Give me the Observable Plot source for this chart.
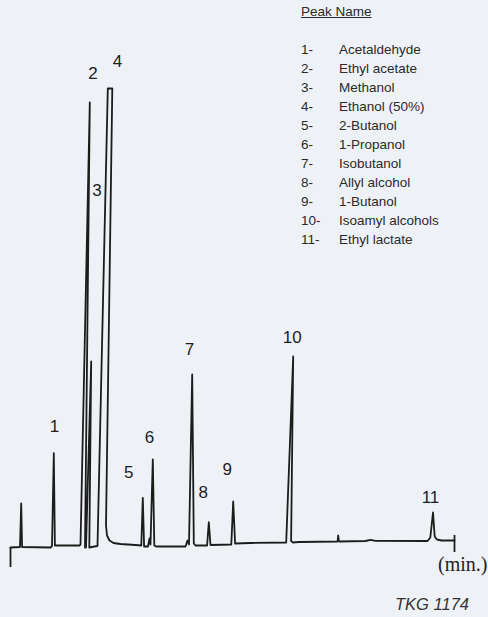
<!DOCTYPE html>
<html>
<head>
<meta charset="utf-8">
<script src="https://cdn.jsdelivr.net/npm/d3@7"></script>
<script src="https://cdn.jsdelivr.net/npm/@observablehq/plot@0.6"></script>
<style>
  html, body { margin: 0; padding: 0; background: #eef2f7; }
  #wrap { position: relative; width: 488px; height: 617px; overflow: hidden; background: #eef2f7; }
  #wrap svg { position: absolute; left: 0; top: 0; }
  .lg { position: absolute; font-family: "Liberation Sans", Arial, sans-serif; font-size: 13.5px; color: #2a2a2a; line-height: 1; white-space: nowrap; }
  .ttl { position: absolute; left: 301px; top: 4px; font-family: "Liberation Sans", Arial, sans-serif; font-size: 13.5px; color: #2a2a2a; text-decoration: underline; white-space: nowrap; }
  .unit { position: absolute; left: 438px; top: 553px; font-family: "Liberation Serif", "Times New Roman", serif; font-size: 20px; color: #222; white-space: nowrap; }
  .cap { position: absolute; left: 395px; top: 595px; font-family: "Liberation Sans", Arial, sans-serif; font-style: italic; font-size: 16.5px; color: #333; white-space: nowrap; }
</style>
</head>
<body>
<div id="wrap"></div>
<script>
// Chromatogram trace: retention time (min) and detector signal (arbitrary units)
const traceTime = [0.000, 0.633, 0.713, 0.773, 2.667, 2.767, 2.887, 2.960, 4.600, 4.667,
  5.287, 4.967, 5.033, 5.380, 5.253, 5.600, 5.800, 6.487, 6.787, 6.367,
  6.433, 6.600, 6.867, 7.333, 8.333, 8.720, 8.820, 8.907, 9.167, 9.267,
  9.333, 9.487, 9.587, 9.700, 11.667, 11.800, 11.900, 12.113, 12.220, 12.333,
  13.107, 13.220, 13.333, 14.720, 14.847, 14.973, 16.000, 18.380, 18.847, 18.707,
  18.833, 19.200, 21.800, 21.847, 21.893, 23.667, 24.000, 24.333, 27.800, 27.987,
  28.167, 28.280, 28.433, 28.733, 29.600];
const traceSignal = [0.0, 0.1, 8.8, 0.1, 0.0, 0.3, 18.86, 0.4, 0.4, 0.6,
  89.0, 0.0, 0.0, 37.2, 0.0, 0.2, 0.3, 91.8, 91.8, 4.4,
  2.4, 1.4, 0.9, 0.7, 0.5, 0.4, 9.94, 0.2, 0.2, 1.8,
  0.6, 17.6, 0.4, 0.2, 0.2, 1.4, 0.6, 34.6, 0.8, 0.4,
  0.4, 5.06, 0.5, 0.6, 9.2, 0.8, 0.9, 1.0, 38.2, 1.3,
  1.0, 1.1, 1.2, 2.4, 1.2, 1.3, 1.54, 1.34, 1.3, 2.0,
  7.0, 2.2, 1.6, 1.4, 1.4];

// Peak numbers and where their labels sit (time, signal)
const peakNumbers = ["1", "2", "3", "4", "5", "6", "7", "8", "9", "10", "11"];
const labelTime   = [2.933, 5.50, 5.773, 7.133, 7.887, 9.267, 11.933, 12.847, 14.447, 18.78, 28.00];
const labelSignal = [24.1, 94.8, 71.3, 97.1, 15.06, 22.06, 39.54, 11.06, 15.6, 42.06, 10.06];

// Time axis ends (start and end ticks)
const axisTickTime = [0, 29.6];
const axisTickTop = [0, 2.4];
const axisTickBottom = [-4, -1];

// Legend
const legendTitle = "Peak Name";
const peakNames = ["Acetaldehyde", "Ethyl acetate", "Methanol", "Ethanol (50%)", "2-Butanol",
  "1-Propanol", "Isobutanol", "Allyl alcohol", "1-Butanol", "Isoamyl alcohols", "Ethyl lactate"];
const unitLabel = "(min.)";
const caption = "TKG 1174";

const trace = traceTime.map((t, i) => ({t, s: traceSignal[i]}));
const labels = peakNumbers.map((n, i) => ({n, t: labelTime[i], s: labelSignal[i]}));
const ticks = axisTickTime.map((t, i) => ({t, s1: axisTickTop[i], s2: axisTickBottom[i]}));

const chart = Plot.plot({
  width: 488,
  height: 617,
  marginLeft: 10,
  marginRight: 34,
  marginTop: 88,
  marginBottom: 70,
  x: {domain: [0, 29.6], axis: null},
  y: {domain: [0, 91.8], axis: null},
  style: {background: "transparent", overflow: "visible"},
  marks: [
    Plot.line(trace, {x: "t", y: "s", stroke: "#1c1c1c", strokeWidth: 1.8, strokeLinejoin: "round", curve: "linear"}),
    Plot.ruleX(ticks, {x: "t", y1: "s1", y2: "s2", stroke: "#1c1c1c", strokeWidth: 1.8}),
    Plot.text(labels, {x: "t", y: "s", text: "n", fontSize: 17, fill: "#1c1c1c",
      fontFamily: "Liberation Sans, Arial, sans-serif", textAnchor: "middle", lineAnchor: "middle"})
  ]
});

const wrap = document.getElementById("wrap");
wrap.appendChild(chart);

const t = document.createElement("div");
t.className = "ttl";
t.textContent = legendTitle;
wrap.appendChild(t);

peakNames.forEach((name, i) => {
  const top = 43 + i * 18.95;
  const num = document.createElement("div");
  num.className = "lg";
  num.style.left = "301px";
  num.style.top = top + "px";
  num.textContent = (i + 1) + "-";
  wrap.appendChild(num);
  const nm = document.createElement("div");
  nm.className = "lg";
  nm.style.left = "339px";
  nm.style.top = top + "px";
  nm.textContent = name;
  wrap.appendChild(nm);
});

const u = document.createElement("div");
u.className = "unit";
u.textContent = unitLabel;
wrap.appendChild(u);

const c = document.createElement("div");
c.className = "cap";
c.textContent = caption;
wrap.appendChild(c);
</script>
</body>
</html>
